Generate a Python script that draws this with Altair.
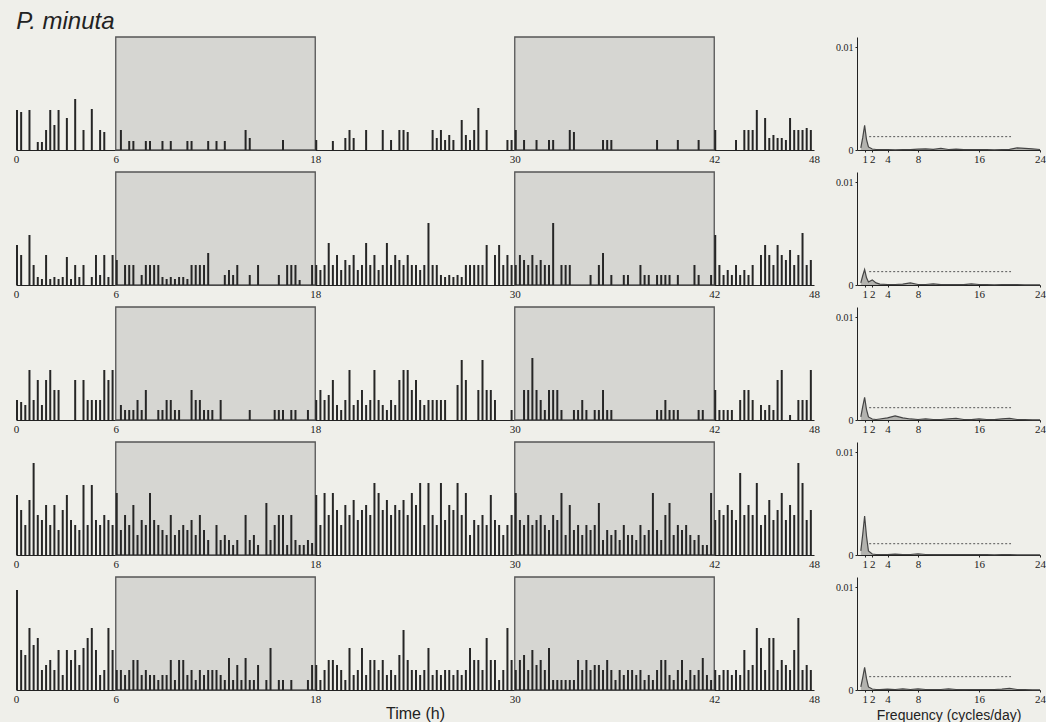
import altair as alt
import pandas as pd

# ---------------- data ----------------
BIN_H = 0.25  # hours per activity bin
row1 = [40,38,0,40, 0,8,8,20, 40,25,40,0, 32,0,51,0, 20,0,41,0, 20,18,0,0,
        0,20,0,9, 9,0,0,9, 9,0,0,9, 0,9,0,0, 0,9,9,0, 0,0,9,0,
        9,0,9,0, 0,0,0,20, 12,0,0,0, 0,0,0,0, 10,0,0,0, 0,0,0,0,
        10,0,0,0, 9,0,0,12, 20,12,0,0, 20,0,0,0, 20,0,10,0, 20,20,18,0,
        0,0,0,0, 20,12,20,10, 15,10,0,30, 15,10,20,42, 0,20,0,0, 0,0,10,10,
        20,0,10,0, 0,10,0,0, 10,10,0,0, 0,20,18,0, 0,0,0,0, 0,10,10,10,
        0,0,0,0, 0,0,0,0, 0,0,10,0, 0,0,0,10, 0,0,0,0, 10,0,0,0,
        20,0,0,0, 0,10,0,20, 20,20,40,0, 32,12,15,12, 12,10,32,20, 20,20,22,20]
row2 = [40,30,0,50, 20,8,6,30, 6,8,6,8, 28,6,20,8, 20,0,8,30, 10,30,8,30,
        25,0,20,20, 20,0,10,20, 20,20,20,8, 6,8,6,8, 8,6,20,20, 20,20,32,0,
        0,0,10,15, 10,20,0,0, 10,0,20,0, 0,0,0,10, 0,20,20,20, 5,0,0,20,
        20,15,20,42, 20,30,15,25, 20,30,15,20, 42,20,30,15, 20,42,20,30, 25,20,30,20,
        20,15,20,62, 20,20,10,8, 10,8,10,8, 20,20,20,20, 20,40,0,30, 40,20,30,20,
        20,30,25,20, 30,20,25,20, 20,62,0,20, 20,20,0,0, 0,0,10,0, 20,32,0,10,
        0,0,10,10, 0,0,20,10, 10,0,10,10, 10,10,0,10, 0,0,0,20, 10,0,0,10,
        50,20,10,15, 10,20,10,15, 10,20,0,30, 40,30,20,40, 30,25,35,20, 30,52,20,25]
row3 = [20,18,15,50, 20,40,15,40, 50,30,30,0, 0,0,40,0, 40,20,20,20, 20,50,40,50,
        0,15,10,10, 10,20,10,30, 0,0,10,10, 20,20,10,10, 0,0,30,20, 20,10,10,10,
        0,20,0,0, 0,0,0,0, 10,0,0,0, 0,0,10,10, 10,0,10,10, 0,0,10,0,
        20,30,20,25, 40,15,10,20, 50,15,20,30, 15,20,50,20, 15,10,20,15, 40,50,50,30,
        40,20,15,20, 20,20,20,20, 0,0,35,60, 40,0,0,30, 60,30,30,20, 0,0,0,10,
        0,0,30,30, 62,30,20,10, 30,30,30,10, 0,0,10,10, 20,10,0,10, 10,30,10,10,
        0,0,0,0, 0,0,0,0, 0,0,10,10, 20,10,10,10, 0,0,0,0, 10,10,0,0,
        30,10,10,10, 10,0,20,30, 30,20,0,15, 10,15,10,40, 50,0,5,0, 20,20,20,50]
row4 = [60,45,30,55, 92,40,35,50, 30,50,25,45, 60,35,30,25, 70,30,70,35, 30,40,35,30,
        62,25,40,30, 50,20,35,30, 62,35,30,25, 20,40,20,25, 30,25,35,20, 40,25,15,0,
        30,15,20,15, 10,15,0,40, 15,20,10,0, 52,15,30,40, 40,10,40,15, 10,10,15,12,
        60,30,62,40, 62,45,30,50, 40,55,35,45, 50,40,72,62, 45,55,40,50, 45,55,40,62,
        50,72,30,72, 40,30,72,35, 50,45,72,40, 62,20,35,30, 40,30,60,35, 30,20,30,40,
        62,35,30,40, 30,35,40,30, 25,40,35,62, 20,50,25,30, 20,30,25,30, 52,15,25,20,
        25,15,30,20, 20,15,30,20, 25,62,25,15, 40,52,20,30, 25,30,20,15, 20,10,10,62,
        35,45,40,50, 45,35,82,40, 50,40,72,30, 40,55,35,45, 62,35,50,40, 92,72,35,45]
row5 = [100,40,35,62, 45,52,20,25, 30,20,40,15, 40,30,40,25, 42,52,62,40, 15,20,62,40,
        20,20,15,20, 30,30,15,20, 15,15,10,15, 15,30,10,30, 30,15,20,10, 20,15,20,20,
        20,15,10,32, 10,25,10,32, 10,10,25,0, 10,42,0,10, 10,0,10,0, 0,0,10,25,
        25,10,20,30, 30,25,20,10, 42,15,20,42, 15,30,30,20, 30,15,20,15, 35,60,30,20,
        20,15,20,42, 15,20,15,20, 20,15,20,15, 20,42,30,30, 20,52,30,30, 10,20,62,30,
        20,30,35,20, 40,25,30,20, 42,10,10,10, 10,10,10,30, 20,30,20,25, 25,20,30,20,
        10,20,15,20, 20,15,20,10, 15,10,20,30, 30,15,10,20, 30,10,20,15, 20,32,15,10,
        20,15,20,20, 15,20,15,40, 20,25,62,42, 20,52,52,20, 30,25,20,40, 72,20,25,20]
activity_rows = [row1, row2, row3, row4, row5]

dark_start = [6, 30]
dark_end = [18, 42]
time_ticks = [0, 6, 18, 30, 42, 48]

freq = [0.5, 0.75, 1.0, 1.25, 1.5, 2.0, 2.5, 3.0, 4.0, 5.0, 6.0, 7.0, 8.0, 9.0, 10.0,
        11.0, 12.0, 13.0, 14.0, 15.0, 16.0, 17.0, 18.0, 19.0, 20.0, 21.0, 22.0, 23.0, 24.0]
pg1 = [0.0002, 0.0012, 0.0024, 0.0010, 0.0003, 0.0001, 0.00005, 0.00003, 0.00005, 0.00002,
       0.00003, 0.00004, 0.00008, 0.0001, 0.00006, 0.00015, 0.00005, 0.00008, 0.00003, 0.00004,
       0.00005, 0.00003, 0.00002, 0.00004, 0.00006, 0.0002, 0.00015, 0.0001, 0.00005]
pg2 = [0.0002, 0.0009, 0.0015, 0.0007, 0.0003, 0.0005, 0.0002, 0.00008, 0.00005, 0.00005,
       0.00008, 0.0002, 0.00005, 0.00005, 0.0001, 0.00003, 0.00005, 0.00004, 0.00003, 0.0001,
       0.00005, 0.00003, 0.00002, 0.00003, 0.00005, 0.00003, 0.00002, 0.00002, 0.00002]
pg3 = [0.0003, 0.0013, 0.0022, 0.0010, 0.0003, 0.0001, 0.00005, 0.0001, 0.0002, 0.0004,
       0.0002, 0.0001, 0.00005, 0.0001, 0.00005, 0.00005, 0.0001, 0.00015, 0.00005, 0.00003,
       0.0001, 0.00005, 0.00003, 0.0001, 0.00015, 0.00005, 0.00003, 0.00002, 0.00002]
pg4 = [0.0004, 0.0020, 0.0038, 0.0018, 0.0004, 0.0001, 0.00005, 0.00005, 0.00005, 0.00008,
       0.00005, 0.00005, 0.0001, 0.00005, 0.00003, 0.00005, 0.00003, 0.00005, 0.00003, 0.00003,
       0.00005, 0.00003, 0.00002, 0.00003, 0.00003, 0.00002, 0.00002, 0.00002, 0.00002]
pg5 = [0.0003, 0.0012, 0.0022, 0.0011, 0.0003, 0.0001, 0.00005, 0.00005, 0.00008, 0.00005,
       0.0001, 0.00005, 0.0001, 0.00005, 0.00005, 0.00005, 0.0001, 0.00005, 0.00003, 0.00005,
       0.00005, 0.00003, 0.00005, 0.00008, 0.00015, 0.00005, 0.00003, 0.00002, 0.00002]
periodograms = [pg1, pg2, pg3, pg4, pg5]
sig_level = [0.0013, 0.0013, 0.0012, 0.0011, 0.0013]
sig_from = 1.6
sig_to = 20.2
freq_ticks = [1, 2, 4, 8, 16, 24]

# ---------------- styling ----------------
BG = "#efefea"
INK = "#222222"
SERIF = "Liberation Serif"
SANS = "Liberation Sans"
ACT_W, ACT_H = 798, 113
PG_W, PG_H = 183, 113
Y_MAX = 113
PG_YMAX = 0.011


def actogram(vals, last):
    df = pd.DataFrame({"t": [k * BIN_H for k in range(len(vals))], "v": vals})
    df["t2"] = df["t"] + 0.12
    shade = pd.DataFrame({"a": dark_start, "b": dark_end})
    xscale = alt.Scale(domain=[0, 48], nice=False, zero=False)
    yscale = alt.Scale(domain=[0, Y_MAX], nice=False)
    xaxis = alt.Axis(values=time_ticks, format="d", labelFont=SERIF, labelFontSize=11,
                     labelColor=INK, ticks=False, grid=False, labelPadding=3,
                     domainColor=INK, domainWidth=1, labelOverlap=False,
                     labelFlush=False, labelBound=False,
                     title="Time (h)" if last else None,
                     titleFont=SANS, titleFontSize=16, titleFontWeight="normal",
                     titleColor=INK, titlePadding=1)
    rect = alt.Chart(shade).mark_rect(fill="#d6d6d2", stroke="#555555", strokeWidth=1.3).encode(
        x=alt.X("a:Q", scale=xscale, axis=xaxis),
        x2="b:Q",
        y=alt.value(0),
        y2=alt.value(ACT_H),
    )
    bars = alt.Chart(df).mark_rect(color="#262626").encode(
        x=alt.X("t:Q", scale=xscale, axis=xaxis),
        x2="t2:Q",
        y=alt.Y("v:Q", scale=yscale, axis=None),
        y2=alt.datum(0),
    )
    return alt.layer(rect, bars).properties(width=ACT_W, height=ACT_H)


def periodogram(vals, sig, last):
    df = pd.DataFrame({"f": freq, "p": vals})
    sdf = pd.DataFrame({"a": [sig_from], "b": [sig_to], "s": [sig]})
    xscale = alt.Scale(domain=[0, 24], nice=False, zero=False)
    yscale = alt.Scale(domain=[0, PG_YMAX], nice=False)
    xaxis = alt.Axis(values=freq_ticks, format="d", labelFont=SERIF,
                     labelFontSize=11, labelColor=INK, labelOverlap=False, ticks=True,
                     tickSize=2, tickColor=INK, grid=False, labelPadding=1,
                     domainColor=INK, labelFlush=False, labelBound=False,
                     title="Frequency (cycles/day)" if last else None,
                     titleFont=SANS, titleFontSize=14, titleFontWeight="normal",
                     titleColor=INK, titlePadding=4)
    yaxis = alt.Axis(values=[0, 0.01], labelExpr="datum.value == 0 ? '0' : '0.01'",
                     labelFont=SERIF, labelFontSize=10, labelColor=INK, ticks=True,
                     tickSize=2, tickColor=INK, grid=False, domainColor=INK, title=None,
                     labelPadding=2, labelOverlap=False)
    area = alt.Chart(df).mark_area(color="#9a9a96", line={"color": "#444444", "strokeWidth": 1.2}).encode(
        x=alt.X("f:Q", scale=xscale, axis=xaxis),
        y=alt.Y("p:Q", scale=yscale, axis=yaxis),
    )
    thr = alt.Chart(sdf).mark_rule(color="#555555", strokeDash=[2, 2], strokeWidth=1).encode(
        x=alt.X("a:Q", scale=xscale, axis=xaxis),
        x2="b:Q",
        y=alt.Y("s:Q", scale=yscale, axis=yaxis),
    )
    return alt.layer(area, thr).properties(width=PG_W, height=PG_H)


rows = []
for i in range(5):
    last = i == 4
    rows.append(alt.hconcat(actogram(activity_rows[i], last),
                            periodogram(periodograms[i], sig_level[i], last),
                            spacing=15))

chart = alt.vconcat(*rows, spacing=7).properties(
    title=alt.TitleParams("P. minuta", anchor="start", font=SANS, fontSize=24,
                          fontStyle="italic", fontWeight="normal", color=INK, offset=2,
                          dx=3),
    background=BG,
    padding={"left": 13, "top": 10, "right": 0, "bottom": 0},
).configure_view(stroke=None)

chart.save("out.html", embed_options={"renderer": "svg", "actions": False})
